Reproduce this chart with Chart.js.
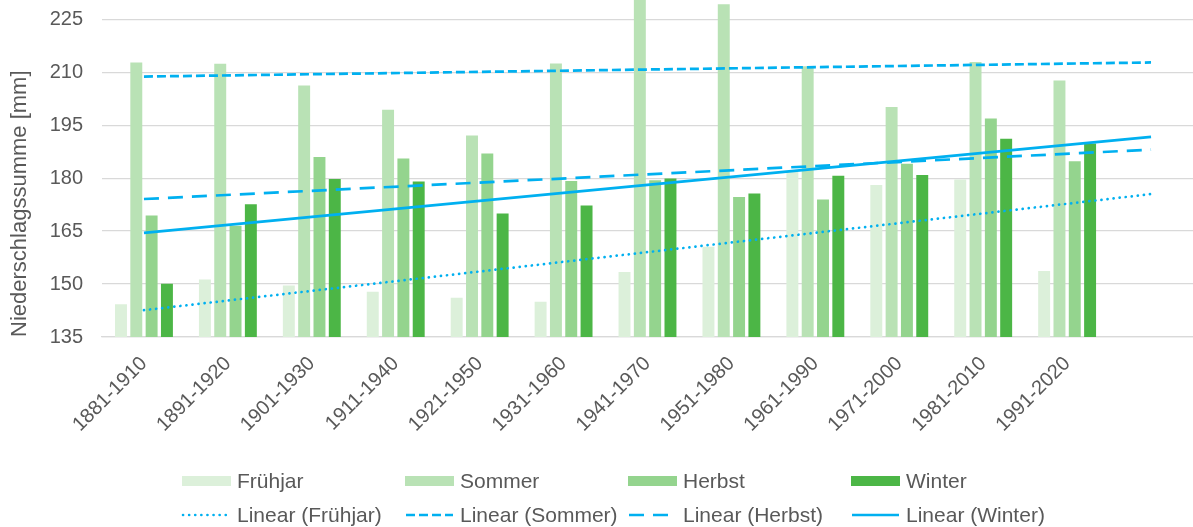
<!DOCTYPE html>
<html>
<head>
<meta charset="utf-8">
<script src="https://cdn.jsdelivr.net/npm/chart.js@4"></script>
<style>
  html, body { margin: 0; padding: 0; background: #fff; }
  #wrap { width: 1193px; height: 527px; }
</style>
</head>
<body>
<div id="wrap"><canvas id="chart"></canvas></div>
<script>
// 30-year periods; the last empty slot holds the trend forecast end
const periods = ["1881-1910", "1891-1920", "1901-1930", "1911-1940", "1921-1950", "1931-1960",
  "1941-1970", "1951-1980", "1961-1990", "1971-2000", "1981-2010", "1991-2020", ""];

const fruehjahr = [144.3, 151.3, 149.6, 147.8, 146.1, 145.0, 153.4, 160.6, 181.8, 178.1, 179.6, 153.7, null];
const sommer = [212.8, 212.4, 206.3, 199.4, 192.1, 212.5, 232.0, 229.3, 211.7, 200.2, 212.9, 207.7, null];
const herbst = [169.4, 166.5, 186.0, 185.6, 187.0, 179.2, 179.4, 174.7, 174.0, 184.1, 196.9, 184.8, null];
const winter = [150.1, 172.6, 179.8, 179.1, 170.0, 172.3, 179.9, 175.7, 180.7, 180.9, 191.2, 189.8, null];

// trend line start / end values
const fruehjahrTrend = [142.6, 175.5];
const sommerTrend = [208.8, 212.8];
const herbstTrend = [174.1, 188.1];
const winterTrend = [164.5, 191.7];

const yTicks = [135, 150, 165, 180, 195, 210, 225];

const textColor = "#595959";
const gridColor = "#d9d9d9";
const lineColor = "#00b0f0";
const fontFamily = "'Liberation Sans', Arial, sans-serif";

const trendData = (pair) => periods.map((p, i) => i === 0 ? pair[0] : (i === periods.length - 1 ? pair[1] : null));

const barSet = (label, data, color) => ({
  type: "bar", label, data, backgroundColor: color, order: 2,
  categoryPercentage: 0.73, barPercentage: 0.78
});
const lineSet = (label, pair, dash, cap) => ({
  type: "line", label, data: trendData(pair), borderColor: lineColor, borderWidth: 2.7,
  borderDash: dash, borderCapStyle: cap, pointRadius: 0, spanGaps: true, order: 1, fill: false
});

// legend drawn on canvas in a fixed 4-column grid
const gridLegend = {
  id: "gridLegend",
  afterDraw(chart) {
    const ctx = chart.ctx;
    ctx.save();
    ctx.font = "21px " + fontFamily;
    ctx.textBaseline = "middle";
    chart.data.datasets.forEach((ds, i) => {
      const x = 182 + (i % 4) * 223;
      const y = 481 + Math.floor(i / 4) * 34;
      if (ds.type === "bar") {
        ctx.fillStyle = ds.backgroundColor;
        ctx.fillRect(x, y - 5, 49, 10);
      } else {
        ctx.strokeStyle = ds.borderColor;
        ctx.lineWidth = 2.6;
        ctx.lineCap = ds.borderCapStyle;
        ctx.setLineDash(ds.borderDash);
        ctx.beginPath();
        ctx.moveTo(x + 1, y);
        ctx.lineTo(x + 48, y);
        ctx.stroke();
        ctx.setLineDash([]);
      }
      ctx.fillStyle = textColor;
      ctx.fillText(ds.label, x + 55, y + 1);
    });
    ctx.restore();
  }
};

new Chart(document.getElementById("chart"), {
  data: {
    labels: periods,
    datasets: [
      barSet("Frühjar", fruehjahr, "#dcf0da"),
      barSet("Sommer", sommer, "#b9e2b5"),
      barSet("Herbst", herbst, "#94d48e"),
      barSet("Winter", winter, "#4cb646"),
      lineSet("Linear (Frühjar)", fruehjahrTrend, [0.1, 6], "round"),
      lineSet("Linear (Sommer)", sommerTrend, [9, 4], "butt"),
      lineSet("Linear (Herbst)", herbstTrend, [15, 9], "butt"),
      lineSet("Linear (Winter)", winterTrend, [], "butt")
    ]
  },
  options: {
    responsive: true,
    maintainAspectRatio: false,
    animation: false,
    layout: { padding: { top: 0, right: 0, left: 0, bottom: 70 } },
    plugins: { legend: { display: false }, tooltip: { enabled: false } },
    scales: {
      x: {
        grid: { display: false },
        border: { color: gridColor, width: 1.3 },
        ticks: {
          color: textColor, font: { family: fontFamily, size: 20 },
          maxRotation: 45, minRotation: 45, autoSkip: false, padding: 7
        },
        afterFit(scale) {
          scale.height = 120;
          scale.paddingLeft = 0;
          scale.paddingRight = 0;
        }
      },
      y: {
        min: 135,
        max: 230.5,
        grid: { color: gridColor, lineWidth: 1.3, drawTicks: false },
        border: { display: false },
        ticks: { color: textColor, font: { family: fontFamily, size: 20 }, padding: 19, stepSize: 15 },
        afterBuildTicks(scale) {
          scale.ticks = yTicks.map(v => ({ value: v }));
        },
        afterFit(scale) {
          scale.width = 102;
          scale.paddingTop = 0;
          scale.paddingBottom = 0;
        },
        title: {
          display: true, text: "Niederschlagssumme [mm]", color: textColor, align: "start",
          font: { family: fontFamily, size: 22 }, padding: { top: 7, bottom: 0 }
        }
      }
    }
  },
  plugins: [gridLegend]
});
</script>
</body>
</html>
